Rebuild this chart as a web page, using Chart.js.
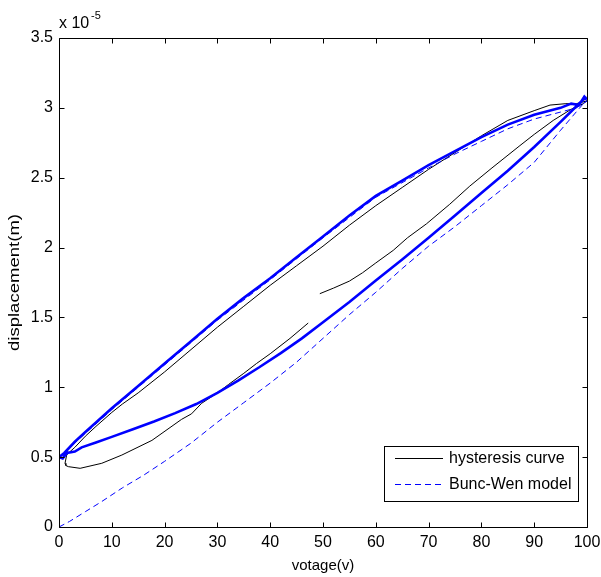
<!DOCTYPE html>
<html>
<head>
<meta charset="utf-8">
<script src="https://cdn.jsdelivr.net/npm/chart.js@4/dist/chart.umd.min.js"></script>
<style>
  html, body { margin: 0; padding: 0; background: #fff; }
  canvas { display: block; }
</style>
</head>
<body>
<canvas id="chartHysteresis" width="601" height="577"></canvas>
<script>
// ---- datos (desplazamiento en unidades de 1e-5 m) ----
const xTicks = [0, 10, 20, 30, 40, 50, 60, 70, 80, 90, 100];
const yTicks = [0, 0.5, 1, 1.5, 2, 2.5, 3, 3.5];

// curva medida (negra)
const measX = [49.4, 52, 55, 57.5, 60, 63.3, 66, 69.6, 74, 77.8, 82, 87.3, 90, 93.6, 97, 99.3, 100,
  98, 96, 93, 90, 85, 80, 75, 70, 65, 60, 55, 50, 45, 40, 35, 30, 25, 20, 15, 12, 10, 7, 5, 3, 2.1, 1.45, 1.14, 1.3, 1.77,
  4, 8.1, 11.9, 17.6, 23.2, 25.1, 27, 30, 32.1, 35, 37.4, 40, 43.75, 47.2];
const measY = [1.67, 1.71, 1.76, 1.82, 1.89, 1.98, 2.07, 2.17, 2.31, 2.44, 2.57, 2.73, 2.81, 2.91, 2.99, 3.03, 3.05,
  3.03, 3.03, 3.02, 2.98, 2.91, 2.80, 2.68, 2.56, 2.43, 2.30, 2.16, 2.01, 1.87, 1.73, 1.58, 1.43, 1.27, 1.11, 0.96, 0.88, 0.82, 0.72, 0.65, 0.57, 0.54, 0.515, 0.456, 0.44, 0.432,
  0.42, 0.456, 0.515, 0.62, 0.77, 0.81, 0.885, 0.96, 1.02, 1.10, 1.17, 1.24, 1.35, 1.46];

// lazo del modelo (azul, grueso): rama de bajada + rama de subida
const loopX = [100, 99.5, 98.5, 97, 95, 90, 85, 80, 75, 70, 65, 60, 55, 50, 45, 40, 35, 30, 25, 20, 15, 10, 5, 3, 1, 0,
  0.7, 1.5, 3, 4.3, 7, 10, 14, 18, 22, 26, 30, 34, 38, 42, 46, 50, 55, 60, 65, 70, 75, 80, 85, 90, 95, 99.3, 100];
const loopY = [3.06, 3.08, 3.02, 3.03, 3.00, 2.95, 2.88, 2.79, 2.69, 2.59, 2.48, 2.37, 2.23, 2.08, 1.93, 1.78, 1.64, 1.49, 1.33, 1.17, 1.01, 0.85, 0.68, 0.61, 0.53, 0.50,
  0.49, 0.53, 0.54, 0.57, 0.605, 0.645, 0.70, 0.755, 0.815, 0.88, 0.96, 1.05, 1.145, 1.245, 1.35, 1.465, 1.61, 1.765, 1.915, 2.07, 2.23, 2.39, 2.55, 2.72, 2.90, 3.06, 3.07];

// modelo Bouc-Wen (azul, discontinuo): carga inicial + bajada
const modelX = [0, 2, 5, 8, 12, 16, 20, 25, 30, 35, 40, 45, 50, 55, 60, 65, 70, 75, 80, 85, 90, 95, 99.3, 100,
  98, 95, 90, 85, 80, 75, 70, 60, 50, 40, 30, 20, 10, 0];
const modelY = [0, 0.04, 0.11, 0.18, 0.28, 0.37, 0.47, 0.60, 0.75, 0.89, 1.03, 1.18, 1.35, 1.52, 1.68, 1.85, 2.01, 2.15, 2.30, 2.45, 2.61, 2.84, 3.03, 3.05,
  3.00, 2.97, 2.92, 2.85, 2.76, 2.67, 2.57, 2.36, 2.07, 1.77, 1.48, 1.16, 0.84, 0.50];

const toPoints = (xs, ys) => xs.map((x, i) => ({ x: x, y: ys[i] }));

const FONT = "'Liberation Sans', Arial, sans-serif";

// ====== marco estilo MATLAB, ticks hacia dentro, leyenda, exponente y título Y ======
const matlabFrame = {
    id: "matlabFrame",
    afterDatasetsDraw(chart) {
        const ctx = chart.ctx;
        const a = chart.chartArea;
        const sx = chart.scales.x, sy = chart.scales.y;
        const L = Math.round(a.left) + 0.5, R = Math.round(a.right) + 0.5;
        const T = Math.round(a.top) + 0.5, B = Math.round(a.bottom) + 0.5;
        ctx.save();
        ctx.strokeStyle = "#000";
        ctx.lineWidth = 1;
        ctx.setLineDash([]);
        ctx.beginPath();
        ctx.rect(L, T, R - L, B - T);
        xTicks.forEach((v) => {
            const px = Math.round(sx.getPixelForValue(v)) + 0.5;
            ctx.moveTo(px, B); ctx.lineTo(px, B - 5);
            ctx.moveTo(px, T); ctx.lineTo(px, T + 5);
        });
        yTicks.forEach((v) => {
            const py = Math.round(sy.getPixelForValue(v)) + 0.5;
            ctx.moveTo(L, py); ctx.lineTo(L + 5, py);
            ctx.moveTo(R, py); ctx.lineTo(R - 5, py);
        });
        ctx.stroke();

        // exponente
        ctx.fillStyle = "#000";
        ctx.textBaseline = "alphabetic";
        ctx.textAlign = "left";
        ctx.font = "16px " + FONT;
        ctx.fillText("x 10", 59, 28);
        ctx.font = "11px " + FONT;
        ctx.fillText("-5", 91, 19);

        // título eje Y (estirado en vertical como en la figura original)
        const yTitle = "displacement(m)";
        ctx.font = "15px " + FONT;
        const w = ctx.measureText(yTitle).width;
        ctx.save();
        ctx.translate(15, (a.top + a.bottom) / 2);
        ctx.rotate(-Math.PI / 2);
        ctx.scale(137 / w, 1);
        ctx.textAlign = "center";
        ctx.textBaseline = "middle";
        ctx.fillText(yTitle, 0, 0);
        ctx.restore();

        // leyenda
        const lx = 384.5, ly = 446.5, lw = 194, lh = 55;
        ctx.fillStyle = "#fff";
        ctx.fillRect(lx, ly, lw, lh);
        ctx.strokeStyle = "#000";
        ctx.strokeRect(lx, ly, lw, lh);
        const rows = [
            { text: "hysteresis curve", color: "#000", dash: [] },
            { text: "Bunc-Wen model", color: "#0000ff", dash: [6, 4] }
        ];
        ctx.font = "16px " + FONT;
        ctx.textBaseline = "middle";
        rows.forEach((r, i) => {
            const y = Math.round(ly + 11 + i * 26) + 0.5;
            ctx.strokeStyle = r.color;
            ctx.setLineDash(r.dash);
            ctx.beginPath();
            ctx.moveTo(395, y); ctx.lineTo(443, y);
            ctx.stroke();
            ctx.fillStyle = "#000";
            ctx.fillText(r.text, 449, y);
        });
        ctx.restore();
    }
};

window.addEventListener("DOMContentLoaded", () => {
    const canvas = document.getElementById("chartHysteresis");
    new Chart(canvas.getContext("2d"), {
        type: "scatter",
        data: {
            datasets: [
                {
                    label: "hysteresis curve",
                    data: toPoints(measX, measY),
                    showLine: true,
                    borderColor: "#000",
                    borderWidth: 1,
                    pointRadius: 0,
                    order: 3
                },
                {
                    label: "loop",
                    data: toPoints(loopX, loopY),
                    showLine: true,
                    borderColor: "#0000ff",
                    borderWidth: 2.6,
                    pointRadius: 0,
                    order: 1
                },
                {
                    label: "Bunc-Wen model",
                    data: toPoints(modelX, modelY),
                    showLine: true,
                    borderColor: "#0000ff",
                    borderWidth: 1,
                    borderDash: [6, 4],
                    pointRadius: 0,
                    order: 2
                }
            ]
        },
        options: {
            responsive: false,
            animation: false,
            devicePixelRatio: 1,
            layout: { padding: { top: 38, right: 14, left: 0, bottom: 0 } },
            plugins: {
                legend: { display: false },
                tooltip: { enabled: false }
            },
            scales: {
                x: {
                    type: "linear",
                    min: 0,
                    max: 100,
                    afterFit: (s) => { s.height = 50; s.paddingLeft = 0; s.paddingRight = 0; },
                    afterBuildTicks: (s) => { s.ticks = xTicks.map((v) => ({ value: v })); },
                    grid: { display: false, drawTicks: false },
                    border: { display: false },
                    ticks: { color: "#000", font: { family: FONT, size: 16 }, padding: 6, maxRotation: 0 },
                    title: { display: true, text: "votage(v)", color: "#000", font: { family: FONT, size: 15 }, padding: { top: 0, bottom: 2 } }
                },
                y: {
                    type: "linear",
                    min: 0,
                    max: 3.5,
                    afterFit: (s) => { s.width = 59; s.paddingTop = 0; s.paddingBottom = 0; },
                    afterBuildTicks: (s) => { s.ticks = yTicks.map((v) => ({ value: v })); },
                    grid: { display: false, drawTicks: false },
                    border: { display: false },
                    ticks: { color: "#000", font: { family: FONT, size: 16 }, padding: 6, callback: (v) => String(v) }
                }
            }
        },
        plugins: [matlabFrame]
    });
});
</script>
</body>
</html>
